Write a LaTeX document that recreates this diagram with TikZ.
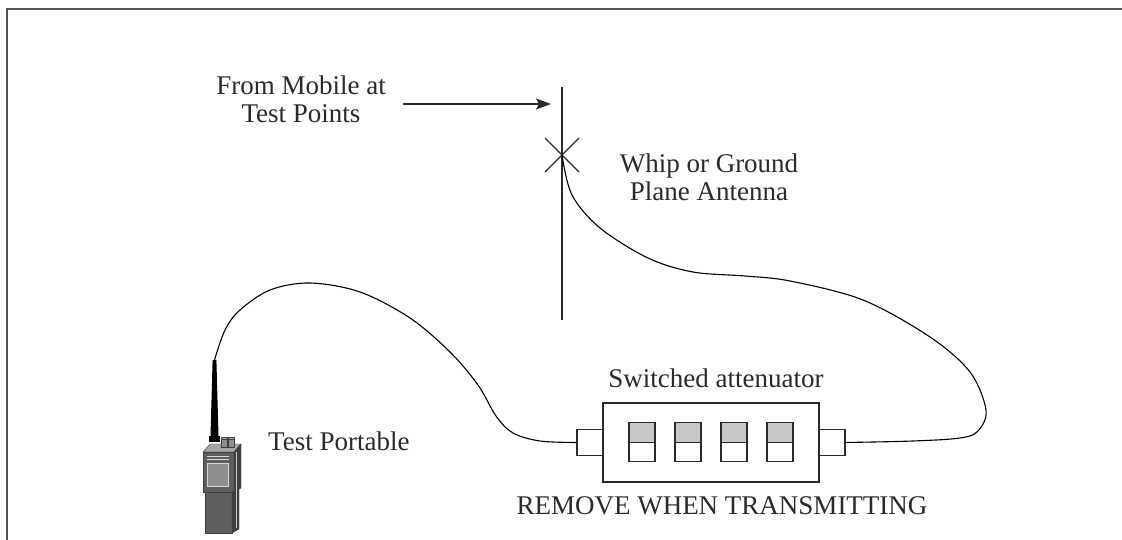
\documentclass[tikz,border=0pt]{standalone}
\usepackage{fontspec}
\setmainfont{Liberation Serif}
\usetikzlibrary{arrows.meta}
\definecolor{ink}{HTML}{2A2A2A}
\definecolor{framegray}{HTML}{555555}
\definecolor{switchgray}{HTML}{C8C8C8}
\definecolor{bodyfront}{HTML}{5E5E5E}
\definecolor{bodyside}{HTML}{3E3E3E}
\definecolor{bodytop}{HTML}{A4A4A4}
\definecolor{screen}{HTML}{8E8E8E}
\begin{document}
\begin{tikzpicture}[x=1pt,y=-1pt,
  txt/.style={font=\fontsize{27}{28}\selectfont, align=center, inner sep=0pt, text=ink},
  wire/.style={line width=1.1pt, draw=black},
  boxline/.style={draw=ink, line width=1.4pt},
  connbox/.style={boxline, fill=white, rectangle, inner sep=0pt, minimum width=26pt, minimum height=26pt},
  swhalf/.style={boxline, rectangle, inner sep=0pt, minimum width=26pt, minimum height=19.5pt},
  mast/.style={draw=ink, line width=1.3pt},
  radioedge/.style={draw=bodyside, line width=0.4pt}
]
\useasboundingbox (0,0) rectangle (1122,540);

% outer frame
\draw[line width=2pt, draw=framegray] (7,540) -- (7,9) -- (1122,9);

% texts
\node[txt] (src) at (301,99.5) {From Mobile at\\Test Points};
\node[txt] (whip) at (709,177.5) {Whip or Ground\\Plane Antenna};
\node[txt, anchor=west] (portable) at (268,441) {Test Portable};
\node[txt] (attlabel) at (716,378.5) {Switched attenuator};
\node[txt] (remove) at (722,505.5) {REMOVE WHEN TRANSMITTING};

% antenna mast with feed point
\coordinate (masttop) at (562,87);
\coordinate (mastbot) at (562,320);
\coordinate (feed) at (562,155);
\draw[mast] (masttop) -- (mastbot);
\draw[mast] ([shift={(-17,-17)}]feed) -- ([shift={(17,17)}]feed);
\draw[mast] ([shift={(-17,17)}]feed) -- ([shift={(17,-17)}]feed);

% arrow from the mobile
\coordinate (arrtail) at (403,104);
\coordinate (arrhead) at (551,104);
\draw[line width=1.3pt, draw=ink, -{Stealth[length=15pt,width=11pt,inset=3pt]}] (arrtail) -- (arrhead);

% switched attenuator
\node[boxline, rectangle, inner sep=0pt, minimum width=216pt, minimum height=79pt] (att) at (711,442.5) {};
\node[connbox] (lconn) at (590,442.5) {};
\node[connbox] (rconn) at (832,442.5) {};
\foreach \i/\x in {1/642,2/688,3/734,4/780}{
  \node[swhalf, fill=switchgray] (sw\i up) at (\x,432.5) {};
  \node[swhalf, fill=white] (sw\i dn) at (\x,452) {};
}

% portable radio
\coordinate (tip) at (214.5,360);
\fill[black] (212.6,360) -- (216.4,360) -- (218.5,436) -- (210.5,436) -- cycle;
\fill[black] (209,436) rectangle (220,442);
\filldraw[fill=bodytop, radioedge] (203,452) -- (210,444) -- (241,444) -- (234,452) -- cycle;
\filldraw[fill=screen, radioedge] (221,437) rectangle (227,447);
\filldraw[fill=screen, radioedge] (228,437) rectangle (234,447);
\filldraw[fill=bodytop, radioedge] (221,437) rectangle (227,439.5);
\filldraw[fill=bodytop, radioedge] (228,437) rectangle (234,439.5);
\filldraw[fill=bodyfront, radioedge] (203,452) rectangle (234,492);
\filldraw[fill=bodyside, radioedge] (234,452) -- (241,444) -- (241,488) -- (234,492) -- cycle;
\filldraw[fill=bodyfront, radioedge] (205,492) rectangle (232,533);
\filldraw[fill=bodyside, radioedge] (232,492) -- (239,488) -- (239,529) -- (232,533) -- cycle;
\draw[white!80!black, line width=0.6pt] (236.5,452) -- (236.5,528);
\draw[white!85!black, line width=0.6pt] (207,456) -- (229,456) (207,459.5) -- (229,459.5);
\filldraw[fill=screen, draw=white!85!black, line width=0.6pt] (207,463) rectangle (228,486);

% cables
\draw[wire] plot[smooth, tension=0.55] coordinates {(tip) (225,330) (240,310) (270,290) (310,283) (360,292) (410,318) (450,352) (478,385) (496,416) (513,433) (540,441) (lconn.west)};
\draw[wire] plot[smooth, tension=0.55] coordinates {(feed) (572,195) (600,228) (648,258) (693,272) (745,276) (790,281) (863,300) (930,337) (970,372) (986,410) (978,431) (960,438) (913,441) (rconn.east)};
\end{tikzpicture}
\end{document}
